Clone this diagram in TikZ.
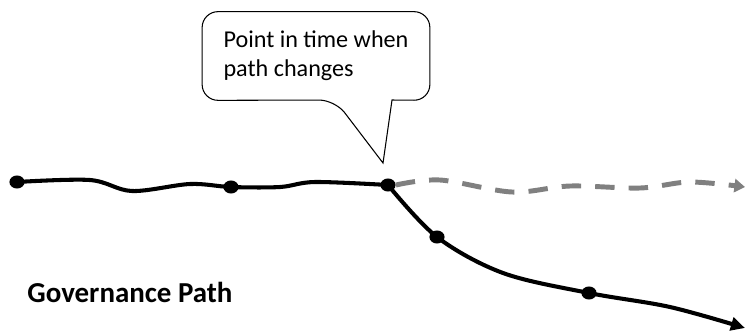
\documentclass[tikz,border=0pt]{standalone}
\usepackage{fontspec}
\setmainfont{Carlito}
\usetikzlibrary{arrows.meta,shapes.geometric}

\begin{document}
\begin{tikzpicture} [x=0.5669pt, y=-0.5669pt,
    dot/.style={ellipse, fill, inner sep=0pt, minimum width=8.6pt, minimum height=7.4pt},
    govline/.style={line width=2.3pt, line cap=round},
    oldline/.style={line width=2.8pt, gray, dash pattern=on 11pt off 8pt}]
		\useasboundingbox (0,0) rectangle (745,334);

		% points on the path
		\node [dot] (d0) at (17,182) {};
		\node [dot] (d1) at (231,187) {};
		\node [dot] (d2) at (388,185) {};
		\node [dot] (d3) at (437,237) {};
		\node [dot] (d4) at (589,293) {};
		\coordinate (oldend) at (745,187);
		\coordinate (newend) at (745,328);

		% path before the change
		\draw [govline] plot [smooth, tension=0.55] coordinates {(d0.center) (90,180) (132,191) (190,184) (d1.center) (280,187) (315,182) (d2.center)};

		% old path, continued
		\draw [oldline, -{Triangle[length=6pt, width=7.5pt]}] plot [smooth, tension=0.55] coordinates {(d2.east) (440,180) (512,192) (570,186) (640,188) (690,182) (oldend)};

		% new path
		\draw [govline, -{Triangle[length=8pt, width=7.5pt]}] plot [smooth, tension=0.55] coordinates {(d2.center) (d3.center) (503,273) (d4.center) (670,307) (newend)};

		% callout
		\node [minimum width=128.7pt, minimum height=49.9pt, align=left,
		       font=\fontsize{13.7}{16.4}\selectfont] (note) at (316,56) {Point in time when\\path changes};
		\coordinate (tip) at (383,163);
		\draw [line width=0.6pt] (tip) -- (392,100) [rounded corners=9pt] -- (note.south east) -- (note.north east) -- (note.north west) -- (note.south west) -- (335,100) [sharp corners] -- cycle;

		\node [anchor=west, inner sep=0pt, font=\fontsize{16.4}{19}\selectfont\bfseries] (name) at (27,292) {Governance Path};

\end{tikzpicture}
\end{document}
